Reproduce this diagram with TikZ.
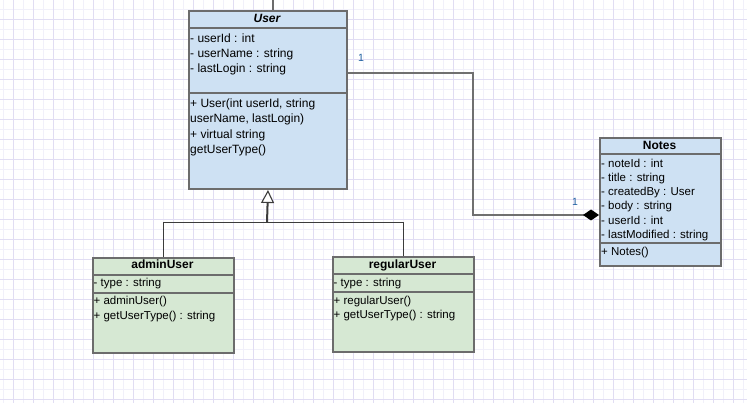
\documentclass[tikz,border=0pt]{standalone}
\usepackage{fontspec}
\setmainfont{Liberation Sans}
\usetikzlibrary{arrows.meta}

\definecolor{gridminor}{RGB}{241,240,250}
\definecolor{gridmajor}{RGB}{225,221,243}
\definecolor{bluefill}{RGB}{206,225,243}
\definecolor{greenfill}{RGB}{214,232,211}
\definecolor{boxborder}{RGB}{108,108,108}
\definecolor{connline}{RGB}{112,112,112}
\definecolor{inhline}{RGB}{60,60,60}
\definecolor{multblue}{RGB}{30,95,160}

% multi-line text nodes sit on the baseline of their last line
\tikzset{
  classbox/.style={draw=boxborder, line width=2pt, rectangle, inner sep=0pt, anchor=north west},
  sepline/.style={draw=boxborder, line width=2pt},
  titletext/.style={anchor=base, inner sep=0pt, font=\fontsize{12}{14}\selectfont\bfseries},
  bigtext/.style={anchor=base west, inner sep=0pt, align=left, font=\fontsize{12}{15.3}\selectfont},
  smalltext/.style={anchor=base west, inner sep=0pt, align=left, font=\fontsize{11.5}{14.2}\selectfont},
  conn/.style={draw=connline, line width=1.8pt},
  inhbranch/.style={draw=inhline, line width=1.3pt},
  inhstem/.style={draw=inhline, line width=2pt},
  mult/.style={inner sep=0pt, text=multblue, font=\fontsize{10.5}{12}\selectfont},
}

\begin{document}
\begin{tikzpicture}[x=1pt,y=-1pt]
  \useasboundingbox (0,0) rectangle (747,403);
  \fill[white] (0,0) rectangle (747,403);

  % background grid
  \foreach \gx in {3.3,23.3,...,747} \draw[gridminor, line width=1pt] (\gx,0) -- (\gx,403);
  \foreach \gy in {9.3,29.3,...,403} \draw[gridminor, line width=1pt] (0,\gy) -- (747,\gy);
  \foreach \gx in {13.3,33.3,...,747} \draw[gridmajor, line width=1pt] (\gx,0) -- (\gx,403);
  \foreach \gy in {19.3,39.3,...,403} \draw[gridmajor, line width=1pt] (0,\gy) -- (747,\gy);

  % class User
  \node[classbox, fill=bluefill, minimum width=158pt, minimum height=178pt] (user) at (188,10) {};
  \draw[sepline] (188,28) -- (346,28);
  \draw[sepline] (188,93) -- (346,93);
  \node[titletext, font=\fontsize{12}{14}\selectfont\bfseries\itshape] (usertitle) at (267,22.3) {User};
  \node[bigtext] (userattr) at (190,72.9) {- userId : int\\- userName : string\\- lastLogin : string};
  \node[bigtext, font=\fontsize{12}{15.5}\selectfont] (userops) at (190,153.8) {+ User(int userId, string\\userName, lastLogin)\\+ virtual string\\getUserType()};

  % class adminUser
  \node[classbox, fill=greenfill, minimum width=141pt, minimum height=95pt] (admin) at (92,257) {};
  \draw[sepline] (92,275) -- (233,275);
  \draw[sepline] (92,293) -- (233,293);
  \node[titletext] (admintitle) at (162.5,269) {adminUser};
  \node[smalltext] (adminattr) at (93.5,286.7) {- type : string};
  \node[smalltext, font=\fontsize{11.5}{14.8}\selectfont] (adminops) at (93.5,319.5) {+ adminUser()\\+ getUserType() : string};

  % class regularUser
  \node[classbox, fill=greenfill, minimum width=141pt, minimum height=95pt] (regular) at (332,256) {};
  \draw[sepline] (332,274.3) -- (473,274.3);
  \draw[sepline] (332,292.3) -- (473,292.3);
  \node[titletext] (regulartitle) at (402.5,268.3) {regularUser};
  \node[smalltext] (regularattr) at (333.5,286.3) {- type : string};
  \node[smalltext, font=\fontsize{11.5}{14.3}\selectfont] (regularops) at (333.5,318.6) {+ regularUser()\\+ getUserType() : string};

  % class Notes
  \node[classbox, fill=bluefill, minimum width=121pt, minimum height=128pt] (notes) at (599,137) {};
  \draw[sepline] (599,154.3) -- (720,154.3);
  \draw[sepline] (599,242.7) -- (720,242.7);
  \node[titletext] (notestitle) at (659.5,149.3) {Notes};
  \node[smalltext] (notesattr) at (601,238.3) {- noteId : int\\- title : string\\- createdBy : User\\- body : string\\- userId : int\\- lastModified : string};
  \node[smalltext] (notesops) at (601,256) {+ Notes()};

  % association leaving the top of User
  \coordinate (topend) at (273,0);
  \draw[conn, draw=boxborder, line width=2pt] (topend) -- (topend |- user.north);

  % composition User -- Notes
  \coordinate (compbend) at (473,215);
  \draw[conn, -{Diamond[length=16pt, width=11pt, color=black, fill=black, line width=0pt]}]
    ([yshift=-62.7pt]user.north east) -| (compbend) -- (compbend -| notes.west);
  \node[mult] (multuser) at (361,58.3) {1};
  \node[mult] (multnotes) at (575,201.7) {1};

  % generalisation adminUser, regularUser -> User
  \coordinate (split) at (267,222.3);
  \draw[inhbranch] (admin.north) |- (split) -| (regular.north);
  \draw[inhstem, -{Triangle[length=13pt, width=13pt, fill=white, line width=1.1pt]}] (split) -- (user.south);
\end{tikzpicture}
\end{document}
